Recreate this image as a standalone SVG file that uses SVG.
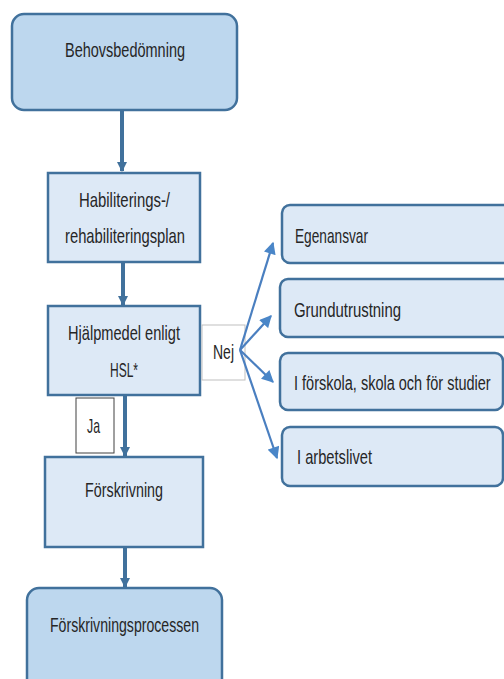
<svg xmlns="http://www.w3.org/2000/svg" width="504" height="679" viewBox="0 0 504 679">
<style>
.dark{fill:#bdd7ee;stroke:#41719c;stroke-width:2.5}
.light{fill:#dde9f6;stroke:#41719c;stroke-width:2.5}
.lbl{fill:#fff;stroke:#bfbfbf;stroke-width:1}
.lblj{fill:#fff;stroke:#404040;stroke-width:1}
text{font-family:"Liberation Sans",Arial,sans-serif;font-size:21px;fill:#262626}
.main{stroke:#41719c;stroke-width:4;fill:none}
.fan{stroke:#4a7fc0;stroke-width:2.2;fill:none}
</style>
<defs>
<marker id="ah" viewBox="0 0 10 10" refX="9" refY="5" markerWidth="2.6" markerHeight="2.6" orient="auto" markerUnits="strokeWidth">
<path d="M0,0 L10,5 L0,10 z" fill="#41719c"/>
</marker>
<marker id="af" viewBox="0 0 10 10" refX="9" refY="5" markerWidth="6" markerHeight="5.5" orient="auto" markerUnits="strokeWidth">
<path d="M0,0 L10,5 L0,10 z" fill="#4a86c8"/>
</marker>
</defs>
<g id="connectors">
<line class="main" x1="122" y1="111" x2="122" y2="171" marker-end="url(#ah)"/>
<line class="main" x1="123" y1="263" x2="123" y2="305" marker-end="url(#ah)"/>
<line class="main" x1="125" y1="396" x2="125" y2="456" marker-end="url(#ah)"/>
<line class="main" x1="125" y1="548" x2="125" y2="587" marker-end="url(#ah)"/>
</g>
<g id="n1"><rect class="dark" x="12" y="14" width="225" height="96" rx="12"/><text x="65" y="57" textLength="120" lengthAdjust="spacingAndGlyphs">Behovsbedömning</text></g>
<g id="n2"><rect class="light" x="48" y="173" width="152" height="89"/><text x="79" y="207" textLength="91" lengthAdjust="spacingAndGlyphs">Habiliterings-/</text><text x="65" y="243" textLength="120" lengthAdjust="spacingAndGlyphs">rehabiliteringsplan</text></g>
<g id="n3"><rect class="light" x="48" y="306" width="152" height="89"/><text x="68" y="340" textLength="112" lengthAdjust="spacingAndGlyphs">Hjälpmedel enligt</text><text x="110" y="377" textLength="28" lengthAdjust="spacingAndGlyphs">HSL*</text></g>
<g id="nej"><rect class="lbl" x="202" y="325" width="43" height="55"/><text x="213" y="359" textLength="21" lengthAdjust="spacingAndGlyphs">Nej</text></g>
<g id="ja"><rect class="lblj" x="76" y="398" width="38" height="55"/><text x="87" y="433" textLength="13" lengthAdjust="spacingAndGlyphs">Ja</text></g>
<g id="n4"><rect class="light" x="45" y="457" width="158" height="90"/><text x="85" y="497" textLength="78" lengthAdjust="spacingAndGlyphs">Förskrivning</text></g>
<g id="n5"><rect class="dark" x="27" y="588" width="195" height="120" rx="12"/><text x="50" y="632" textLength="149" lengthAdjust="spacingAndGlyphs">Förskrivningsprocessen</text></g>
<g id="r1"><rect class="light" x="282" y="205" width="232" height="58" rx="8"/><text x="295" y="243" textLength="73" lengthAdjust="spacingAndGlyphs">Egenansvar</text></g>
<g id="r2"><rect class="light" x="280" y="279" width="234" height="58" rx="8"/><text x="294" y="317" textLength="107" lengthAdjust="spacingAndGlyphs">Grundutrustning</text></g>
<g id="r3"><rect class="light" x="280" y="353" width="223" height="57" rx="8"/><text transform="translate(294,390) scale(0.69,1)" x="0" y="0" textLength="285" lengthAdjust="spacingAndGlyphs">I förskola, skola och för studier</text></g>
<g id="r4"><rect class="light" x="282" y="427" width="221" height="59" rx="8"/><text x="297" y="464" textLength="75" lengthAdjust="spacingAndGlyphs">I arbetslivet</text></g>
<g id="fan">
<line class="fan" x1="240" y1="350" x2="273" y2="243" marker-end="url(#af)"/>
<line class="fan" x1="240" y1="350" x2="271" y2="316" marker-end="url(#af)"/>
<line class="fan" x1="240" y1="350" x2="273" y2="382" marker-end="url(#af)"/>
<line class="fan" x1="240" y1="350" x2="277" y2="458" marker-end="url(#af)"/>
</g>
</svg>
